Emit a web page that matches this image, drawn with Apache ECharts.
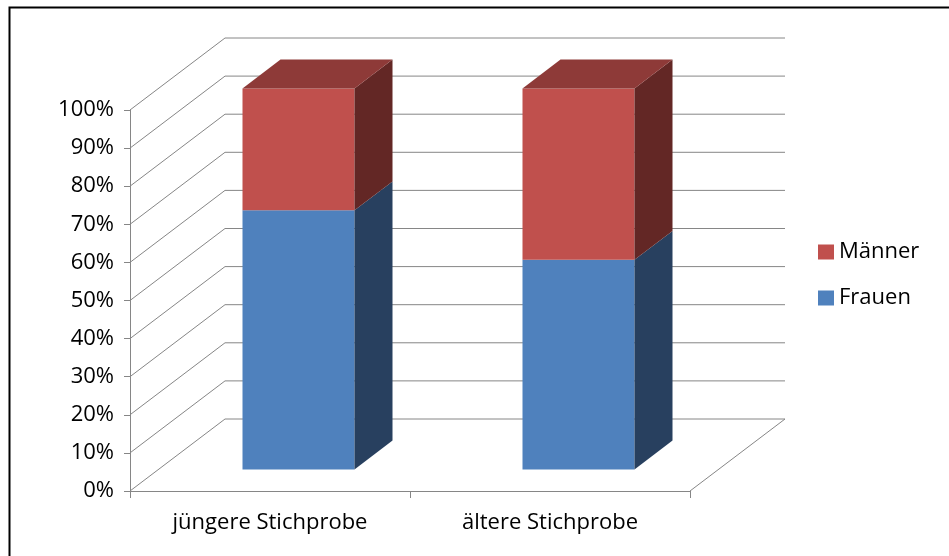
<!DOCTYPE html>
<html>
<head>
<meta charset="utf-8">
<script src="https://cdn.jsdelivr.net/npm/echarts@6/dist/echarts.min.js"></script>
<style>
  html, body { margin: 0; padding: 0; background: #fff; }
  #chart { width: 949px; height: 556px; }
</style>
</head>
<body>
<div id="chart"></div>
<script>
// Stichproben und Anteile (in Prozent)
const categories = ['jüngere Stichprobe', 'ältere Stichprobe'];
const frauen = [68, 55];
const maenner = [32, 45];
const yTicks = [0, 10, 20, 30, 40, 50, 60, 70, 80, 90, 100];

// Pseudo-3D-Tiefe des Diagramms (Bildschirmversatz der Rückwand)
const DX = 95, DY = -72;
const BAR_FRONT = 0.3, BAR_BACK = 0.7, BAR_WIDTH = 0.4;
const FONT = '"Open Sans", sans-serif';
const LINE = '#868686';

const shades = {
  'Frauen': { front: '#4F81BD', side: '#28405F', top: '#3B6291' },
  'Männer': { front: '#C0504D', side: '#632725', top: '#8E3A38' }
};

// Rückwand, linke Seitenwand und Boden als Gitterlinien
function renderWalls(params, api) {
  const cs = params.coordSys;
  const v = api.value(1);
  const y = api.coord([0, v])[1];
  const x0 = cs.x, x1 = cs.x + cs.width;
  const children = [{
    type: 'polyline',
    shape: { points: [[x0, y], [x0 + DX, y + DY], [x1 + DX, y + DY]] },
    style: { stroke: LINE, lineWidth: 1, fill: null }
  }];
  if (v === 0) {
    children.push({
      type: 'line',
      shape: { x1: x1, y1: y, x2: x1 + DX, y2: y + DY },
      style: { stroke: LINE, lineWidth: 1 }
    });
  }
  return { type: 'group', children: children };
}

// Quader für einen Stapelabschnitt: Vorderseite, rechte Seite, ggf. Deckel
function makeBox(name, withTop) {
  const c = shades[name];
  return function (params, api) {
    const cat = api.value(0), lo = api.value(1), hi = api.value(2);
    const half = api.size([1, 0])[0] * BAR_WIDTH / 2;
    const pLo = api.coord([cat, lo]);
    const pHi = api.coord([cat, hi]);
    const fx = DX * BAR_FRONT, fy = DY * BAR_FRONT;
    const ddx = DX * (BAR_BACK - BAR_FRONT), ddy = DY * (BAR_BACK - BAR_FRONT);
    const xl = pLo[0] - half + fx, xr = pLo[0] + half + fx;
    const yb = pLo[1] + fy, yt = pHi[1] + fy;
    const children = [
      { type: 'polygon', shape: { points: [[xl, yt], [xr, yt], [xr, yb], [xl, yb]] },
        style: { fill: c.front } },
      { type: 'polygon', shape: { points: [[xr, yt], [xr + ddx, yt + ddy], [xr + ddx, yb + ddy], [xr, yb]] },
        style: { fill: c.side } }
    ];
    if (withTop) {
      children.push({ type: 'polygon',
        shape: { points: [[xl, yt], [xl + ddx, yt + ddy], [xr + ddx, yt + ddy], [xr, yt]] },
        style: { fill: c.top } });
    }
    return { type: 'group', children: children };
  };
}

const frauenData = categories.map((_, i) => [i, 0, frauen[i]]);
const maennerData = categories.map((_, i) => [i, frauen[i], frauen[i] + maenner[i]]);

const chart = echarts.init(document.getElementById('chart'), null, { renderer: 'canvas' });
chart.setOption({
  animation: false,
  backgroundColor: '#fff',
  textStyle: { fontFamily: FONT },
  graphic: [{
    type: 'rect', left: 7, top: 5, z: 100,
    shape: { width: 1000, height: 1000 },
    style: { fill: null, stroke: '#000', lineWidth: 2 }
  }],
  grid: { left: 130, right: 259, top: 110, bottom: 65 },
  legend: {
    orient: 'vertical', left: 813, top: 236,
    itemWidth: 16, itemHeight: 15, itemGap: 24,
    icon: 'rect',
    data: ['Männer', 'Frauen'],
    textStyle: { fontFamily: FONT, fontSize: 22, color: '#000', lineHeight: 20 }
  },
  xAxis: {
    type: 'category', data: categories, boundaryGap: true,
    axisLine: { lineStyle: { color: LINE, width: 1 } },
    axisTick: { show: true, length: 7, alignWithLabel: false, lineStyle: { color: LINE } },
    axisLabel: { fontFamily: FONT, fontSize: 22, color: '#000', margin: 21 },
    splitLine: { show: false }
  },
  yAxis: {
    type: 'value', min: 0, max: 100, interval: 10,
    axisLine: { show: true, lineStyle: { color: LINE, width: 1 } },
    axisTick: { show: true, length: 6, lineStyle: { color: LINE } },
    axisLabel: { formatter: '{value}%', fontFamily: FONT, fontSize: 22, color: '#000', margin: 16 },
    splitLine: { show: false }
  },
  series: [
    {
      type: 'custom', name: 'walls', silent: true, z: 1,
      data: yTicks.map(v => [0, v]),
      encode: { x: 0, y: 1 },
      renderItem: renderWalls, clip: false
    },
    {
      type: 'custom', name: 'Frauen', z: 2,
      itemStyle: { color: shades['Frauen'].front },
      data: frauenData, encode: { x: 0, y: 2 },
      renderItem: makeBox('Frauen', false), clip: false
    },
    {
      type: 'custom', name: 'Männer', z: 3,
      itemStyle: { color: shades['Männer'].front },
      data: maennerData, encode: { x: 0, y: 2 },
      renderItem: makeBox('Männer', true), clip: false
    }
  ]
});
</script>
</body>
</html>
